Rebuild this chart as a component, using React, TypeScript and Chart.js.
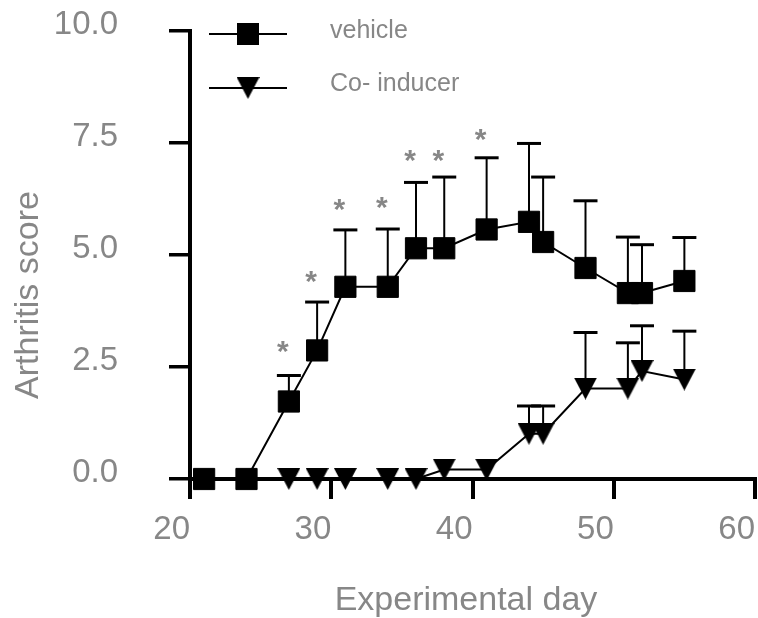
import React, { useEffect, useRef } from "react";
import { Chart, registerables } from "chart.js";

Chart.register(...registerables);

// ---- data ----
const vehicleDays = [21, 24, 27, 29, 31, 34, 36, 38, 41, 44, 45, 48, 51, 52, 55];
const vehicleScore = [0, 0, 1.73, 2.87, 4.29, 4.29, 5.15, 5.15, 5.57, 5.74, 5.29, 4.71, 4.15, 4.15, 4.42];
const vehicleSem = [0, 0, 0.58, 1.08, 1.27, 1.29, 1.47, 1.59, 1.6, 1.75, 1.45, 1.5, 1.25, 1.08, 0.97];

const coDays = [27, 29, 31, 34, 36, 38, 41, 44, 45, 48, 51, 52, 55];
const coScore = [0, 0, 0, 0, 0, 0.21, 0.21, 1.01, 1.01, 2.02, 2.02, 2.41, 2.22];
const coSem = [0, 0, 0, 0, 0, 0, 0, 0.62, 0.62, 1.25, 1.02, 1.01, 1.08];

// significance markers (vehicle vs co-inducer)
const starDays = [27, 29, 31, 34, 36, 38, 41];
const starLevel = [3.01, 4.58, 6.18, 6.22, 7.29, 7.29, 7.75];

const xTicks = [20, 30, 40, 50, 60];
const yTicks = [0, 2.5, 5, 7.5, 10];

const seriesNames = ["vehicle", "Co- inducer"];
const xTitle = "Experimental day";
const yTitle = "Arthritis score";

const GRAY = "#878787";
const FONT = "'Liberation Sans', Arial, Helvetica, sans-serif";

function makeTriangle(w: number, h: number) {
  const c = document.createElement("canvas");
  c.width = w;
  c.height = h;
  const g = c.getContext("2d")!;
  g.fillStyle = "#000";
  g.beginPath();
  g.moveTo(0, 0);
  g.lineTo(w, 0);
  g.lineTo(w / 2, h);
  g.closePath();
  g.fill();
  return c;
}

function zeroPad(s: any) {
  s.paddingTop = 0;
  s.paddingBottom = 0;
  s.paddingLeft = 0;
  s.paddingRight = 0;
}

export default function App() {
  const ref = useRef<HTMLCanvasElement | null>(null);

  useEffect(() => {
    document.body.style.margin = "0";
    const canvas = ref.current!;
    const tri = makeTriangle(23, 22);

    const errSets = [
      { days: vehicleDays, vals: vehicleScore, sem: vehicleSem },
      { days: coDays, vals: coScore, sem: coSem },
    ];

    const errorBars = {
      id: "errorBars",
      beforeDatasetsDraw(chart: any) {
        const { ctx } = chart;
        const xs = chart.scales.x;
        const ys = chart.scales.y;
        ctx.save();
        ctx.strokeStyle = "#000";
        errSets.forEach((s) => {
          s.days.forEach((d, i) => {
            if (!s.sem[i]) return;
            const px = xs.getPixelForValue(d);
            const p0 = ys.getPixelForValue(s.vals[i]);
            const p1 = ys.getPixelForValue(s.vals[i] + s.sem[i]);
            ctx.lineWidth = 2;
            ctx.beginPath();
            ctx.moveTo(px, p0);
            ctx.lineTo(px, p1);
            ctx.stroke();
            ctx.lineWidth = 3;
            ctx.beginPath();
            ctx.moveTo(px - 12, p1);
            ctx.lineTo(px + 12, p1);
            ctx.stroke();
          });
        });
        ctx.restore();
      },
    };

    const overlay = {
      id: "overlay",
      afterDraw(chart: any) {
        const { ctx } = chart;
        const xs = chart.scales.x;
        const ys = chart.scales.y;
        ctx.save();
        // asterisks
        ctx.fillStyle = GRAY;
        ctx.font = `bold 30px ${FONT}`;
        ctx.textAlign = "center";
        ctx.textBaseline = "alphabetic";
        starDays.forEach((d, i) => {
          const px = xs.getPixelForValue(d) - 6;
          const py = ys.getPixelForValue(starLevel[i]);
          ctx.fillText("*", px, py + 0.57 * 30);
        });
        // legend
        const rows = [34, 88];
        ctx.strokeStyle = "#000";
        ctx.lineWidth = 2;
        rows.forEach((y) => {
          ctx.beginPath();
          ctx.moveTo(209, y);
          ctx.lineTo(287, y);
          ctx.stroke();
        });
        ctx.fillStyle = "#000";
        ctx.fillRect(248 - 11, rows[0] - 11, 22, 22);
        ctx.drawImage(tri, 248 - 11.5, rows[1] - 11);
        ctx.fillStyle = GRAY;
        ctx.font = `25px ${FONT}`;
        ctx.textAlign = "left";
        ctx.fillText(seriesNames[0], 330, 38);
        ctx.fillText(seriesNames[1], 330, 91);
        // axis titles
        ctx.font = `34px ${FONT}`;
        ctx.textAlign = "center";
        ctx.fillText(xTitle, 466, 610);
        ctx.translate(38, 295);
        ctx.rotate(-Math.PI / 2);
        ctx.fillText(yTitle, 0, 0);
        ctx.restore();
      },
    };

    const chart = new Chart(canvas, {
      type: "line",
      data: {
        datasets: [
          {
            label: seriesNames[0],
            data: vehicleDays.map((d, i) => ({ x: d, y: vehicleScore[i] })),
            borderColor: "#000",
            borderWidth: 2,
            pointStyle: "rect",
            pointRadius: 15,
            pointBackgroundColor: "#000",
            pointBorderColor: "#000",
            pointBorderWidth: 1,
            tension: 0,
            clip: false as any,
          },
          {
            label: seriesNames[1],
            data: coDays.map((d, i) => ({ x: d, y: coScore[i] })),
            borderColor: "#000",
            borderWidth: 2,
            pointStyle: tri as any,
            pointRadius: 12,
            pointBackgroundColor: "#000",
            tension: 0,
            clip: false as any,
          },
        ],
      },
      options: {
        responsive: false,
        animation: false,
        layout: { autoPadding: false, padding: { top: 31, right: 3, left: 0, bottom: 0 } },
        plugins: { legend: { display: false }, tooltip: { enabled: false } },
        scales: {
          x: {
            type: "linear",
            min: 20,
            max: 60,
            afterBuildTicks: (s: any) => {
              s.ticks = xTicks.map((v) => ({ value: v }));
            },
            afterFit: (s: any) => {
              s.height = 139;
              zeroPad(s);
            },
            border: { display: true, color: "#000", width: 4 },
            grid: {
              display: true,
              drawOnChartArea: false,
              drawTicks: true,
              tickLength: 20,
              tickWidth: 4,
              tickColor: "#000",
              lineWidth: 4,
              color: "#000",
            },
            ticks: {
              color: GRAY,
              font: { size: 33, family: FONT },
              padding: 11,
              align: "end",
              maxRotation: 0,
              autoSkip: false,
              callback: (v: any) => String(v),
            },
          },
          y: {
            type: "linear",
            min: 0,
            max: 10,
            afterBuildTicks: (s: any) => {
              s.ticks = yTicks.map((v) => ({ value: v }));
            },
            afterFit: (s: any) => {
              s.width = 190;
              zeroPad(s);
            },
            border: { display: true, color: "#000", width: 4 },
            grid: {
              display: true,
              drawOnChartArea: false,
              drawTicks: true,
              tickLength: 21,
              tickWidth: 3.5,
              tickColor: "#000",
              lineWidth: 3.5,
              color: "#000",
            },
            ticks: {
              color: GRAY,
              font: { size: 33, family: FONT },
              padding: 51,
              labelOffset: -6,
              autoSkip: false,
              callback: (v: any) => Number(v).toFixed(1),
            },
          },
        },
      },
      plugins: [errorBars, overlay],
    });

    return () => chart.destroy();
  }, []);

  return (
    <div style={{ width: 758, height: 618 }}>
      <canvas ref={ref} width={758} height={618} style={{ display: "block" }} />
    </div>
  );
}
